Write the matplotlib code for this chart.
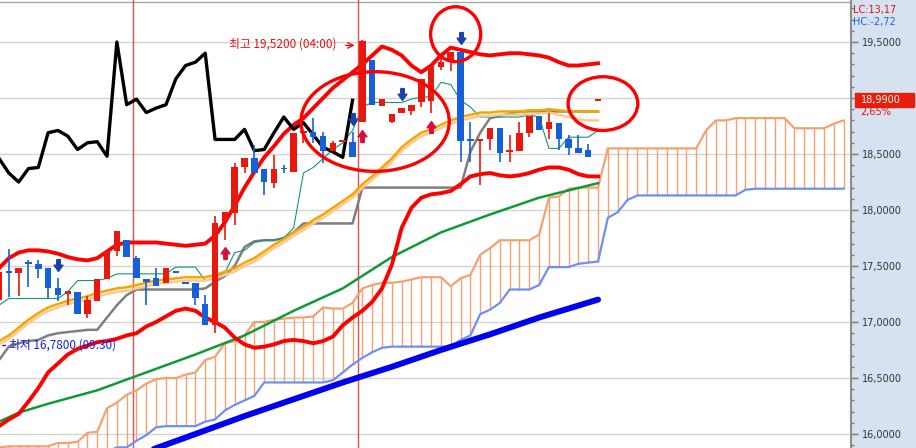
import matplotlib
matplotlib.use('Agg')
import matplotlib.pyplot as plt
import numpy as np
from matplotlib import font_manager
from matplotlib.patches import Ellipse, Rectangle
from matplotlib.path import Path
from matplotlib.ticker import MultipleLocator, FuncFormatter

# ---- candles (one per bar, bar index = position) ----
opens = [17.20, 17.45, 17.44, 17.53, 17.52, 17.48, 17.30, 17.25, 17.27, 17.07,
         17.19, 17.38, 17.63, 17.73, 17.57, 17.38, 17.39, 17.35, 17.45, 17.35,
         17.35, 17.16, 16.97, 17.89, 17.97, 18.38, 18.46, 18.37, 18.24, 18.375,
         18.34, 18.69, 18.70, 18.66, 18.53, 18.61, 18.61, 18.79, 19.34, 18.93,
         18.79, 18.87, 18.88, 18.96, 18.97, 19.28, 19.32, 19.41, 18.63, 18.62,
         18.63, 18.73, 18.52, 18.53, 18.69, 18.84, 18.72, 18.78, 18.63, 18.55,
         18.54, 18.98]
highs = [17.45, 17.65, 17.48, 17.55, 17.55, 17.48, 17.39, 17.28, 17.27, 17.23,
         17.38, 17.63, 17.81, 17.73, 17.59, 17.38, 17.48, 17.48, 17.45, 17.35,
         17.35, 17.24, 17.95, 17.98, 18.42, 18.46, 18.58, 18.37, 18.49, 18.40,
         18.69, 18.70, 18.82, 18.70, 18.62, 18.62, 18.70, 19.52, 19.34, 18.99,
         18.86, 18.91, 18.94, 19.17, 19.29, 19.37, 19.41, 19.41, 18.79, 18.63,
         18.73, 18.73, 18.67, 18.79, 18.84, 18.84, 18.87, 18.78, 18.67, 18.67,
         18.59, 18.99]
lows = [17.20, 17.22, 17.23, 17.31, 17.39, 17.21, 17.19, 17.15, 17.07, 17.04,
        17.19, 17.38, 17.59, 17.58, 17.39, 17.15, 17.32, 17.35, 17.44, 17.34,
        17.15, 16.97, 16.90, 17.73, 17.87, 18.33, 18.33, 18.13, 18.20, 18.33,
        18.34, 18.60, 18.60, 18.42, 18.53, 18.61, 18.47, 18.79, 18.94, 18.93,
        18.78, 18.87, 18.85, 18.92, 18.87, 19.25, 19.24, 18.43, 18.43, 18.22,
        18.54, 18.43, 18.43, 18.53, 18.65, 18.71, 18.63, 18.54, 18.49, 18.51,
        18.47, 18.98]
closes = [17.45, 17.44, 17.48, 17.52, 17.47, 17.30, 17.24, 17.28, 17.07, 17.20,
          17.38, 17.63, 17.81, 17.58, 17.39, 17.36, 17.32, 17.48, 17.44, 17.34,
          17.21, 16.97, 17.88, 17.98, 18.38, 18.46, 18.33, 18.25, 18.37, 18.365,
          18.69, 18.70, 18.65, 18.53, 18.60, 18.62, 18.47, 19.51, 18.94, 18.99,
          18.86, 18.91, 18.94, 19.17, 19.29, 19.32, 19.41, 18.62, 18.62, 18.63,
          18.73, 18.51, 18.53, 18.69, 18.84, 18.71, 18.79, 18.63, 18.55, 18.51,
          18.47, 18.99]

# ---- bollinger bands ----
upper_band = [17.48, 17.57, 17.62, 17.64, 17.64, 17.63, 17.61, 17.58, 17.56, 17.55,
              17.57, 17.63, 17.69, 17.71, 17.71, 17.71, 17.71, 17.70, 17.69, 17.68,
              17.69, 17.70, 17.77, 17.89, 18.04, 18.20, 18.34, 18.47, 18.57, 18.68,
              18.76, 18.82, 18.91, 19.00, 19.09, 19.16, 19.23, 19.30, 19.38, 19.46,
              19.43, 19.38, 19.29, 19.23, 19.29, 19.38, 19.45, 19.43, 19.41, 19.39,
              19.38, 19.39, 19.40, 19.40, 19.39, 19.38, 19.36, 19.32, 19.29, 19.29,
              19.30, 19.31]
lower_band = [16.07, 16.13, 16.18, 16.29, 16.41, 16.55, 16.63, 16.71, 16.76, 16.79,
              16.82, 16.83, 16.85, 16.88, 16.90, 16.96, 17.00, 17.05, 17.10, 17.12,
              17.10, 17.04, 17.00, 16.95, 16.86, 16.80, 16.77, 16.78, 16.80, 16.83,
              16.84, 16.83, 16.81, 16.83, 16.87, 16.97, 17.04, 17.10, 17.18, 17.30,
              17.51, 17.84, 18.02, 18.11, 18.14, 18.15, 18.17, 18.23, 18.30, 18.32,
              18.33, 18.31, 18.30, 18.31, 18.33, 18.36, 18.38, 18.38, 18.36, 18.32,
              18.30, 18.30]

# ---- moving averages ----
ma_gold = [16.83, 16.88, 16.95, 17.02, 17.08, 17.13, 17.16, 17.19, 17.21, 17.23,
           17.26, 17.28, 17.30, 17.31, 17.33, 17.35, 17.37, 17.38, 17.39, 17.40,
           17.40, 17.40, 17.42, 17.45, 17.48, 17.53, 17.57, 17.63, 17.69, 17.74,
           17.80, 17.85, 17.91, 17.96, 18.02, 18.08, 18.14, 18.23, 18.30, 18.38,
           18.46, 18.56, 18.63, 18.69, 18.72, 18.76, 18.80, 18.83, 18.85, 18.87,
           18.87, 18.88, 18.88, 18.88, 18.89, 18.89, 18.90, 18.89, 18.88, 18.88,
           18.88, 18.88]
ma_peach = [16.80, 16.85, 16.92, 16.99, 17.05, 17.10, 17.13, 17.16, 17.18, 17.20,
            17.23, 17.25, 17.27, 17.28, 17.30, 17.32, 17.34, 17.35, 17.36, 17.37,
            17.37, 17.37, 17.39, 17.42, 17.45, 17.50, 17.54, 17.60, 17.66, 17.71,
            17.77, 17.82, 17.88, 17.93, 17.99, 18.05, 18.11, 18.20, 18.27, 18.35,
            18.43, 18.53, 18.60, 18.66, 18.69, 18.73, 18.77, 18.80, 18.82, 18.84,
            18.84, 18.85, 18.85, 18.85, 18.86, 18.86, 18.87, 18.85, 18.83, 18.81,
            18.80, 18.80]
green_idx = [0, 2, 5, 10, 15, 20, 25, 30, 35, 40, 45, 50, 55, 61]
green_val = [16.11, 16.19, 16.27, 16.39, 16.55, 16.71, 16.88, 17.10, 17.30, 17.58,
             17.80, 17.96, 18.11, 18.24]
blue_idx = [14, 20, 25, 30, 35, 40, 45, 50, 55, 61]
blue_val = [15.81, 16.00, 16.16, 16.31, 16.46, 16.60, 16.75, 16.89, 17.04, 17.20]

# ---- ichimoku ----
tenkan = [17.15, 17.21, 17.21, 17.21, 17.21, 17.21, 17.21, 17.27, 17.37, 17.37,
          17.37, 17.39, 17.43, 17.43, 17.43, 17.43, 17.43, 17.43, 17.49, 17.49,
          17.49, 17.37, 17.40, 17.44, 17.62, 17.64, 17.71, 17.73, 17.73, 17.75,
          17.84, 18.33, 18.38, 18.46, 18.54, 18.60, 18.71, 18.92, 18.96, 18.96,
          18.96, 18.96, 18.99, 19.01, 19.01, 19.14, 19.12, 18.98, 18.92, 18.83,
          18.83, 18.83, 18.83, 18.83, 18.85, 18.83, 18.55, 18.55, 18.65, 18.65,
          18.65, 18.71]
kijun = [16.66, 16.78, 16.81, 16.83, 16.84, 16.88, 16.90, 16.91, 16.92, 16.93,
         16.93, 17.04, 17.15, 17.24, 17.29, 17.29, 17.29, 17.29, 17.29, 17.29,
         17.29, 17.30, 17.36, 17.41, 17.50, 17.67, 17.72, 17.73, 17.73, 17.75,
         17.80, 17.88, 17.88, 17.88, 17.88, 17.88, 17.88, 18.20, 18.20, 18.20,
         18.20, 18.20, 18.20, 18.20, 18.20, 18.20, 18.20, 18.20, 18.52, 18.69,
         18.82, 18.84, 18.86, 18.88, 18.88, 18.88, 18.88, 18.88, 18.88, 18.88,
         18.88, 18.88]
chikou = [18.46, 18.33, 18.25, 18.37, 18.38, 18.69, 18.71, 18.66, 18.54, 18.60,
          18.61, 18.48, 19.50, 18.94, 18.99, 18.87, 18.91, 18.94, 19.17, 19.29,
          19.32, 19.40, 18.63, 18.63, 18.63, 18.72, 18.53, 18.54, 18.69, 18.83,
          18.72, 18.78, 18.67, 18.56, 18.52, 18.47, 18.98]
span_a = [15.88, 15.89, 15.89, 15.89, 15.89, 15.89, 15.92, 15.92, 15.93, 16.01,
          16.02, 16.23, 16.28, 16.35, 16.39, 16.45, 16.49, 16.50, 16.50, 16.53,
          16.55, 16.66, 16.69, 16.81, 16.83, 16.88, 17.00, 17.00, 17.02, 17.03,
          17.04, 17.04, 17.05, 17.13, 17.12, 17.12, 17.17, 17.30, 17.33, 17.35,
          17.35, 17.36, 17.38, 17.40, 17.40, 17.40, 17.32, 17.39, 17.42, 17.60,
          17.66, 17.73, 17.73, 17.73, 17.73, 17.78, 18.11, 18.12, 18.19, 18.20,
          18.20, 18.20, 18.55, 18.55, 18.55, 18.55, 18.55, 18.55, 18.55, 18.55,
          18.55, 18.55, 18.71, 18.80, 18.80, 18.82, 18.82, 18.82, 18.82, 18.82,
          18.82, 18.73, 18.73, 18.73, 18.73, 18.77, 18.80]
span_b = [15.70, 15.70, 15.70, 15.70, 15.70, 15.70, 15.70, 15.70, 15.70, 15.70,
          15.78, 15.84, 15.88, 15.88, 15.94, 15.99, 16.06, 16.07, 16.07, 16.07,
          16.07, 16.11, 16.13, 16.21, 16.26, 16.30, 16.34, 16.46, 16.46, 16.46,
          16.46, 16.46, 16.46, 16.46, 16.48, 16.55, 16.62, 16.68, 16.73, 16.77,
          16.78, 16.78, 16.78, 16.78, 16.78, 16.78, 16.78, 16.84, 16.88, 17.07,
          17.11, 17.17, 17.29, 17.29, 17.29, 17.33, 17.49, 17.49, 17.49, 17.52,
          17.53, 17.54, 17.93, 17.98, 18.09, 18.13, 18.13, 18.13, 18.13, 18.13,
          18.13, 18.13, 18.13, 18.13, 18.13, 18.13, 18.18, 18.19, 18.19, 18.19,
          18.19, 18.19, 18.19, 18.19, 18.19, 18.19, 18.19]

# ---- signals ----
down_idx = [6, 36, 41, 47]
down_val = [17.51, 18.81, 19.04, 19.54]
up_idx = [23, 37, 44]
up_val = [17.62, 18.66, 18.74]

day_breaks = [13.65, 36.6]

RED = '#e8180c'
BLUE = '#1560d8'

names = {f.name for f in font_manager.fontManager.ttflist}
if 'Liberation Sans Narrow' in names:
    axis_font, axis_size = 'Liberation Sans Narrow', 9
else:
    axis_font, axis_size = 'DejaVu Sans', 7
kr_font = ['Noto Sans CJK KR', 'DejaVu Sans']

fig = plt.figure(figsize=(9.16, 4.48), dpi=100)
fig.patch.set_facecolor('#d6e2f0')
ax = fig.add_axes([0, 0, 851 / 916, 1])
ax.set_facecolor('white')
ax.set_xlim(0.1, 86.76)
ax.set_ylim(15.875, 19.875)

# grid + day separators
for v in np.arange(16.0, 19.51, 0.5):
    ax.axhline(v, color='#d4d4d4', lw=1, zorder=0)
ax.axhline(19.857, color='#a8a8a8', lw=1, zorder=0)
for d in day_breaks:
    ax.axvline(d, color='#e05050', lw=1, zorder=1)

# cloud
for i, (a, b) in enumerate(zip(span_a, span_b)):
    ax.vlines(i, b, a, color='#f5a070', lw=1.0, zorder=2)
ax.plot(range(len(span_a)), span_a, color='#f5a070', lw=1.6, zorder=2.5)
ax.plot(range(len(span_b)), span_b, color='#6f8ff2', lw=1.6, zorder=2.5)

# moving averages
ax.plot(blue_idx, blue_val, color='#0000f0', lw=4.3, solid_capstyle='round', zorder=3)
ax.plot(green_idx, green_val, color='#0f9a3a', lw=1.8, zorder=3)
ax.plot(range(len(kijun)), kijun, color='#7f7f7f', lw=1.8, zorder=3.5)
ax.plot(range(len(tenkan)), tenkan, color='#12967a', lw=0.8, zorder=3.6)
ax.plot(range(len(ma_peach)), ma_peach, color='#ffc890', lw=1.8, zorder=3.7)
ax.plot(range(len(ma_gold)), ma_gold, color='#f2a800', lw=1.8, zorder=3.8)

# bollinger
ax.plot(range(len(upper_band)), upper_band, color='#ff0000', lw=2.8, zorder=4)
ax.plot(range(len(lower_band)), lower_band, color='#ff0000', lw=2.8, zorder=4)

# lagging span
ax.plot(range(len(chikou)), chikou, color='black', lw=2.4, zorder=4.2)

# candles
o = np.array(opens)
h = np.array(highs)
l = np.array(lows)
c = np.array(closes)
idx = np.arange(len(o))
cols = [RED if cc >= oo else BLUE for oo, cc in zip(o, c)]
body = np.maximum(np.abs(c - o), 0.016)
bottom = (o + c) / 2 - body / 2
ax.vlines(idx, l, h, colors=cols, lw=1.2, zorder=5)
ax.bar(idx, body, bottom=bottom, width=0.66, color=cols, linewidth=0, zorder=6)

# signal arrows
down_arrow = Path([(-0.3, 1), (0.3, 1), (0.3, 0.05), (0.75, 0.05), (0, -1),
                   (-0.75, 0.05), (-0.3, 0.05), (-0.3, 1)])
up_arrow = Path([(x, -y) for x, y in down_arrow.vertices])
ax.plot(down_idx, down_val, linestyle='none', marker=down_arrow, ms=8.5,
        color='#1c3faa', zorder=7)
ax.plot(up_idx, up_val, linestyle='none', marker=up_arrow, ms=8.5,
        color='#d4113c', zorder=7)

# hand-drawn marks
for cx, cy, w, hgt in [(38.3, 18.79, 15.1, 0.89), (46.5, 19.57, 5.1, 0.49),
                       (61.5, 18.95, 7.1, 0.48)]:
    ax.add_patch(Ellipse((cx, cy), w, hgt, fill=False, edgecolor='#ff0000',
                         lw=2.4, zorder=8))

# high / low labels
ax.text(34.4, 19.48, '최고 19,5200 (04:00)', color='#e81010', fontsize=8.5,
        family=kr_font, ha='right', va='center', zorder=9)
ax.annotate('', xy=(36.5, 19.47), xytext=(35.0, 19.47),
            arrowprops=dict(arrowstyle='->', color='#e81010', lw=1), zorder=9)
ax.annotate('', xy=(0.1, 16.79), xytext=(0.95, 16.79),
            arrowprops=dict(arrowstyle='-', color='#1020e0', lw=1), zorder=9)
ax.text(1.02, 16.79, '최저 16,7800 (09:30)', color='#1020e0', fontsize=8.5,
        family=kr_font, ha='left', va='center', zorder=9)

# axes styling
ax.set_xticks([])
ax.yaxis.tick_right()
ax.yaxis.set_major_locator(MultipleLocator(0.5))
ax.yaxis.set_minor_locator(MultipleLocator(0.1))
ax.yaxis.set_major_formatter(FuncFormatter(lambda v, p: f'{v:.4f}'.replace('.', ',')))
ax.tick_params(axis='y', which='major', length=5, width=1, color='#777777',
               pad=3, labelsize=axis_size, labelcolor='#333333')
ax.tick_params(axis='y', which='minor', length=2.5, width=1, color='#777777')
for lab in ax.get_yticklabels():
    lab.set_family(axis_font)
ax.spines['left'].set_visible(False)
ax.spines['bottom'].set_visible(False)
ax.spines['top'].set_visible(False)
ax.spines['right'].set_color('#8c8c8c')
ax.spines['right'].set_linewidth(1.5)

# right panel texts
fig.text(853 / 916, 1 - 9.5 / 448, 'LC:13,17', color='#e01010', fontsize=axis_size,
         family=axis_font, va='center')
fig.text(853 / 916, 1 - 22 / 448, 'HC:-2,72', color='#1a5fe0', fontsize=axis_size,
         family=axis_font, va='center')
fig.add_artist(Rectangle((855 / 916, 1 - 107 / 448), 59 / 916, 14 / 448,
                         transform=fig.transFigure, color='#e81e0a'))
fig.text(861 / 916, 1 - 100 / 448, '18,9900', color='white', fontsize=axis_size,
         family=axis_font, va='center')
fig.text(860 / 916, 1 - 112.5 / 448, '2,65%', color='#e01010', fontsize=axis_size,
         family=axis_font, va='center')

fig.savefig('out.png', dpi=100)
